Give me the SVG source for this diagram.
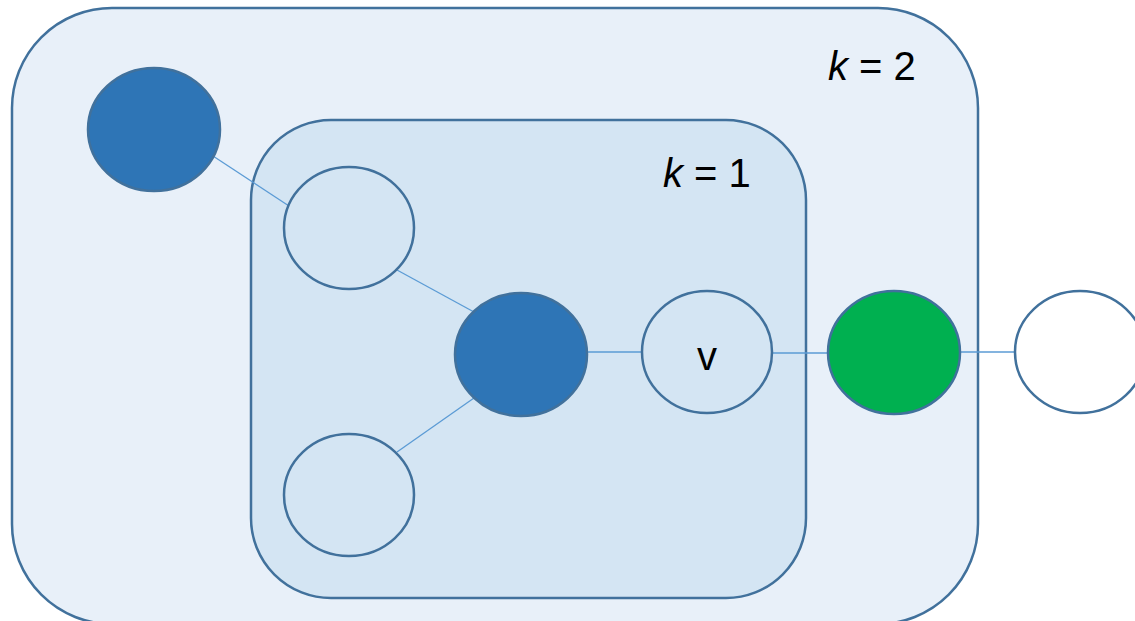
<svg xmlns="http://www.w3.org/2000/svg" width="1135" height="621" viewBox="0 0 1135 621">
<style>
.box{stroke:#41719c;stroke-width:2.5}
.node{stroke:#41719c;stroke-width:2.5}
.edge{stroke:#5b9bd5;stroke-width:1.3;fill:none}
.lbl{font-family:"Liberation Sans",Arial,sans-serif;font-size:40px;fill:#000}
</style>
<rect width="1135" height="621" fill="#ffffff"/>
<g id="k2">
<rect class="box" x="12" y="8" width="966" height="616" rx="100" ry="100" fill="#e8f0f9"/>
<text class="lbl" x="828" y="80"><tspan font-style="italic">k</tspan> = 2</text>
</g>
<g id="k1">
<rect class="box" x="251" y="120" width="555" height="478" rx="80" ry="80" fill="#d4e5f3"/>
<text class="lbl" x="663" y="187"><tspan font-style="italic">k</tspan> = 1</text>
</g>
<g id="edges">
<line class="edge" x1="213" y1="156" x2="289" y2="206"/>
<line class="edge" x1="397" y1="270" x2="474" y2="312"/>
<line class="edge" x1="397" y1="452" x2="474" y2="398"/>
<line class="edge" x1="587" y1="352" x2="642" y2="352"/>
<line class="edge" x1="772" y1="353" x2="828" y2="353"/>
<line class="edge" x1="960" y1="352" x2="1015" y2="352"/>
</g>
<g id="n1"><ellipse class="node" cx="154" cy="129.5" rx="66" ry="61.5" fill="#2e75b6"/></g>
<g id="n2"><ellipse class="node" cx="349" cy="228" rx="65" ry="61" fill="none"/></g>
<g id="n3"><ellipse class="node" cx="349" cy="495" rx="65" ry="61" fill="none"/></g>
<g id="n4"><ellipse class="node" cx="521" cy="354.5" rx="66" ry="61.5" fill="#2e75b6"/></g>
<g id="v"><ellipse class="node" cx="707" cy="352" rx="65" ry="61" fill="none"/>
<text class="lbl" x="707" y="370" text-anchor="middle" font-size="36">v</text></g>
<g id="n6"><ellipse class="node" cx="894" cy="352.5" rx="66" ry="61.5" fill="#00b050"/></g>
<g id="n7"><ellipse class="node" cx="1080" cy="352" rx="65" ry="61" fill="#ffffff"/></g>
</svg>
